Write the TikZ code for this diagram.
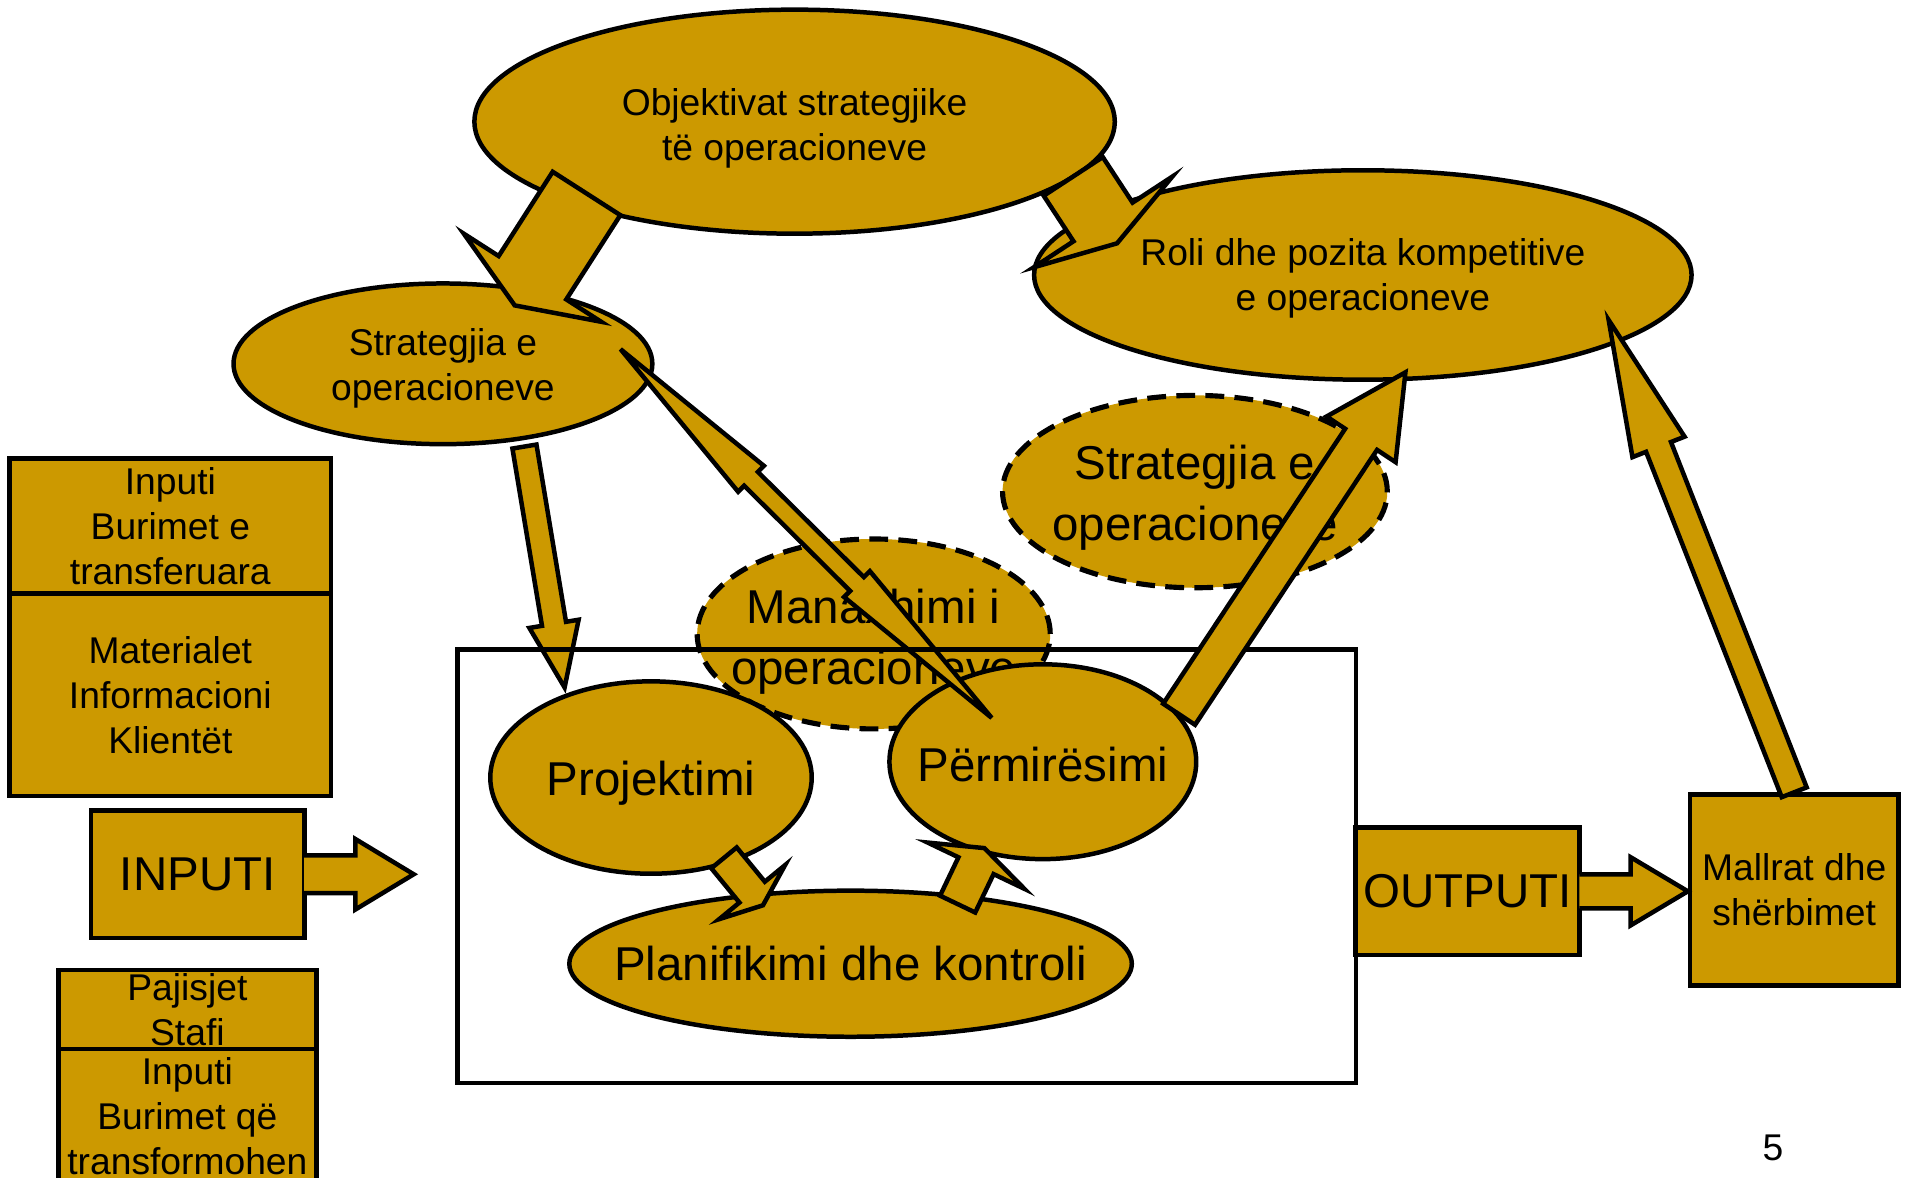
\documentclass[tikz,border=0pt]{standalone}
\usepackage{fontspec}
\setmainfont{Liberation Sans}
\usetikzlibrary{shapes.geometric,calc,positioning}
\definecolor{ochre}{RGB}{204,153,0}
\newcommand\smalltxt{\fontsize{8.7}{10.5}\selectfont}
\newcommand\bigtxt{\fontsize{11.1}{14.2}\selectfont}
\newcommand\lift[1]{\rule{0pt}{#1}}
\tikzset
{
    goal/.style     = {ellipse, draw=black, fill=ochre, line width=1.05pt, inner xsep=-0.8cm, inner ysep=0pt, align=center, font=\smalltxt},
    fuzzy/.style    = {goal, line width=1.2pt, dash pattern=on 4.4pt off 2.4pt, font=\bigtxt},
    block/.style    = {rectangle, draw=black, fill=ochre, line width=1.05pt, inner sep=0pt, align=center, font=\smalltxt},
    bigarrow/.style = {draw=black, fill=ochre, line width=1.05pt, line join=miter},
}
% tail, tip, shaft half width, head half width, head length
\newcommand\fatarrow[5]{%
  \coordinate (fa-b) at ($#2!#5!#1$);
  \draw[bigarrow] ($#1!#3!90:#2$) -- ($(fa-b)!#3!90:#2$) -- ($(fa-b)!#4!90:#2$) -- #2
    -- ($(fa-b)!#4!-90:#2$) -- ($(fa-b)!#3!-90:#2$) -- ($#1!#3!-90:#2$) -- cycle;
}
% same, but no line across the tail (arrow grows out of a box)
\newcommand\calloutarrow[5]{%
  \coordinate (fa-b) at ($#2!#5!#1$);
  \fill[ochre] ($#1!#3!90:#2$) -- ($(fa-b)!#3!90:#2$) -- ($(fa-b)!#4!90:#2$) -- #2
    -- ($(fa-b)!#4!-90:#2$) -- ($(fa-b)!#3!-90:#2$) -- ($#1!#3!-90:#2$) -- cycle;
  \draw[bigarrow, fill=none] ($#1!#3!90:#2$) -- ($(fa-b)!#3!90:#2$) -- ($(fa-b)!#4!90:#2$) -- #2
    -- ($(fa-b)!#4!-90:#2$) -- ($(fa-b)!#3!-90:#2$) -- ($#1!#3!-90:#2$);
}
% tip A, tip B, shaft half width, head half width, head A length, head B length
\newcommand\twinarrow[6]{%
  \coordinate (ta-a) at ($#1!#5!#2$);
  \coordinate (ta-b) at ($#2!#6!#1$);
  \draw[bigarrow] #1 -- ($(ta-a)!#4!90:#2$) -- ($(ta-a)!#3!90:#2$) -- ($(ta-b)!#3!-90:#1$) -- ($(ta-b)!#4!-90:#1$) -- #2
    -- ($(ta-b)!#4!90:#1$) -- ($(ta-b)!#3!90:#1$) -- ($(ta-a)!#3!-90:#2$) -- ($(ta-a)!#4!-90:#2$) -- cycle;
}

\begin{document}
\begin{tikzpicture}[x=0.01cm, y=-0.01cm]
		\fill[white] (0,0) rectangle (1568,968);
		\clip (0,0) rectangle (1568,968);
		% ellipses
		\node (obj)    [goal, minimum width=5.26cm, minimum height=1.84cm]   at (653,100)   {\lift{9.4pt}Objektivat strategjike\\të operacioneve};
		\node (roli)   [goal, minimum width=5.40cm, minimum height=1.72cm]   at (1120,226)  {\lift{8.1pt}Roli dhe pozita kompetitive\\e operacioneve};
		\node (strat)  [goal, minimum width=3.44cm, minimum height=1.32cm]   at (364,299)   {\lift{8.6pt}Strategjia e\\operacioneve};
		\node (stratd) [fuzzy, minimum width=3.16cm, minimum height=1.58cm]  at (982,404)   {\lift{10.9pt}Strategjia e\\operacioneve};
		\node (manax)  [fuzzy, minimum width=2.90cm, minimum height=1.56cm]  at (718,521)   {\lift{11.5pt}Manaxhimi i\\operacioneve};
		\node (proj)   [goal, font=\bigtxt, minimum width=2.64cm, minimum height=1.58cm] at (535,639) {\lift{10.9pt}Projektimi};
		\node (perm)   [goal, font=\bigtxt, minimum width=2.52cm, minimum height=1.60cm] at (857,626) {\lift{9.2pt}Përmirësimi};
		\node (plan)   [goal, font=\bigtxt, minimum width=4.62cm, minimum height=1.20cm] at (699,792) {Planifikimi dhe kontroli};

		\coordinate (a3s) at (431,367);
		\coordinate (a3e) at (464,565);
		\fatarrow{(a3s)}{(a3e)}{0.10cm}{0.205cm}{0.53cm}
		\coordinate (a4s) at (510,287);
		\coordinate (a4e) at (815,590);
		\twinarrow{(a4s)}{(a4e)}{0.08cm}{0.15cm}{1.51cm}{1.56cm}

		\node (frame)  [draw, line width=1.05pt, inner sep=0pt, minimum width=7.38cm, minimum height=3.56cm] at (745,712) {};

		% big arrows
		\coordinate (a5s) at (969,587);
		\coordinate (a5e) at (1155,306);
		\fatarrow{(a5s)}{(a5e)}{0.157cm}{0.34cm}{0.66cm}
		\coordinate (a1s) at (482,159);
		\coordinate (a1e) at (423,251);
		\fatarrow{(a1s)}{(a1e)}{0.33cm}{0.67cm}{0.27cm}
		\coordinate (a2s) at (882,145);
		\coordinate (a2e) at (918,200);
		\fatarrow{(a2s)}{(a2e)}{0.29cm}{0.68cm}{0.21cm}
		\coordinate (a7s) at (595,705);
		\coordinate (a7e) at (627,744);
		\fatarrow{(a7s)}{(a7e)}{0.135cm}{0.35cm}{0.14cm}
		\coordinate (a8s) at (787,743);
		\coordinate (a8e) at (809,697);
		\fatarrow{(a8s)}{(a8e)}{0.16cm}{0.44cm}{0.16cm}

		% boxes
		\node (inTop)   [block, minimum width=2.64cm, minimum height=1.11cm] at (140,432.5)  {Inputi\\Burimet e\\transferuara};
		\node (inBot)   [block, minimum width=2.64cm, minimum height=1.66cm] at (140,571)    {Materialet\\Informacioni\\Klientët};
		\node (inputi)  [block, font=\bigtxt, minimum width=1.75cm, minimum height=1.05cm] at (162.5,718.5) {INPUTI};
		\node (eqTop)   [block, minimum width=2.12cm, minimum height=0.65cm] at (154,829.5)  {Pajisjet\\Stafi};
		\node (eqBot)   [block, minimum width=2.12cm, minimum height=1.10cm] at (154,917)    {Inputi\\Burimet që\\transformohen};
		\node (outputi) [block, font=\bigtxt, minimum width=1.84cm, minimum height=1.05cm] at (1206,732.5) {OUTPUTI};
		\node (mallrat) [block, minimum width=1.71cm, minimum height=1.57cm] at (1474.5,731.5) {Mallrat dhe\\shërbimet};
		\node (pg)      [font=\smalltxt] at (1457,943) {5};

		\coordinate (a6e) at (1322,263);
		\fatarrow{(mallrat.north)}{(a6e)}{0.11cm}{0.23cm}{1.12cm}
		\coordinate (inTip) at (340,718.5);
		\calloutarrow{($(inputi.east)+(-2,0)$)}{(inTip)}{0.155cm}{0.29cm}{0.48cm}
		\calloutarrow{($(outputi.east)+(-2,0)$)}{(outputi.east -| mallrat.west)}{0.14cm}{0.28cm}{0.47cm}
\end{tikzpicture}
\end{document}
